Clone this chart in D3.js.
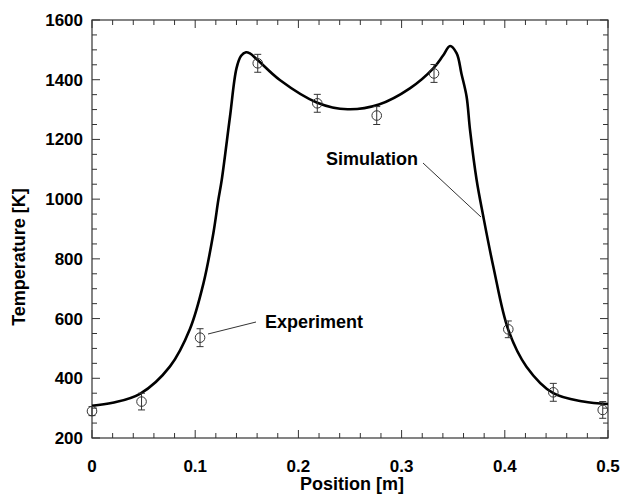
<!DOCTYPE html>
<html>
<head>
<meta charset="utf-8">
<script src="https://cdn.jsdelivr.net/npm/d3@7"></script>
<style>
body{margin:0;background:#fff;}
text{font-family:"Liberation Sans",Arial,sans-serif;font-weight:bold;fill:#000;}
</style>
</head>
<body>
<svg id="chart" width="623" height="495"></svg>
<script>
// Simulation curve
const simX = [0, 0.02, 0.0465, 0.0756, 0.095, 0.108, 0.1176, 0.1224, 0.1257, 0.1337, 0.140, 0.1445, 0.1492, 0.153, 0.1605, 0.182, 0.2183, 0.2476, 0.278, 0.308, 0.3307, 0.340, 0.347, 0.3534, 0.358, 0.363, 0.3663, 0.3727, 0.379, 0.389, 0.4034, 0.421, 0.447, 0.476, 0.5];
const simT = [308, 318, 348, 440, 566, 718, 886, 997, 1064, 1276, 1438, 1480, 1492, 1488, 1466, 1399, 1323, 1301, 1317, 1371, 1438, 1480, 1513, 1488, 1420, 1343, 1232, 1064, 945, 772, 562, 439, 350, 322, 314];
// Experiment points
const expX = [0, 0.048, 0.1047, 0.1606, 0.2183, 0.2759, 0.3314, 0.4034, 0.447, 0.4949];
const expT = [290, 322, 536, 1455, 1321, 1280, 1421, 564, 353, 294];
const expErr = [15, 28, 30, 30, 30, 30, 30, 28, 30, 28];
// Axis ticks
const xTicks = [0, 0.1, 0.2, 0.3, 0.4, 0.5];
const yTicks = [200, 400, 600, 800, 1000, 1200, 1400, 1600];
const xLabel = "Position [m]";
const yLabel = "Temperature [K]";
const annSim = "Simulation";
const annExp = "Experiment";

const svg = d3.select("#chart");
const L = 92, R = 608, T = 20, B = 438;
const x = d3.scaleLinear().domain([0, 0.5]).range([L, R]);
const y = d3.scaleLinear().domain([200, 1600]).range([B, T]);

const axisColor = "#333";
svg.append("rect").attr("x", L).attr("y", T).attr("width", R - L).attr("height", B - T)
  .attr("fill", "none").attr("stroke", axisColor).attr("stroke-width", 1.2);

const xMinor = d3.range(0, 0.5001, 0.02).map(v => +v.toFixed(3));
const yMinor = d3.range(200, 1601, 50);
const isMajX = v => Math.abs(v * 10 - Math.round(v * 10)) < 1e-6;
const isMajY = v => v % 200 === 0;

const g = svg.append("g").attr("stroke", axisColor).attr("stroke-width", 1);
xMinor.forEach(v => {
  const len = isMajX(v) ? 8 : 5;
  g.append("line").attr("x1", x(v)).attr("x2", x(v)).attr("y1", B).attr("y2", B - len);
  g.append("line").attr("x1", x(v)).attr("x2", x(v)).attr("y1", T).attr("y2", T + len);
});
yMinor.forEach(v => {
  const len = isMajY(v) ? 8 : 5;
  g.append("line").attr("x1", L).attr("x2", L + len).attr("y1", y(v)).attr("y2", y(v));
  g.append("line").attr("x1", R).attr("x2", R - len).attr("y1", y(v)).attr("y2", y(v));
});

svg.selectAll(".xt").data(xTicks).enter().append("text")
  .attr("x", d => x(d)).attr("y", 472).attr("text-anchor", "middle")
  .attr("font-size", 17).text(d => d === 0 ? "0" : d3.format(".1f")(d));
svg.selectAll(".yt").data(yTicks).enter().append("text")
  .attr("x", 83).attr("y", d => y(d) + 6).attr("text-anchor", "end")
  .attr("font-size", 17).text(d => d);

svg.append("text").attr("x", (L + R) / 2 + 2).attr("y", 490).attr("text-anchor", "middle")
  .attr("font-size", 18).text(xLabel);
svg.append("text").attr("transform", `translate(25,${(T + B) / 2 + 28}) rotate(-90)`)
  .attr("text-anchor", "middle").attr("font-size", 18).text(yLabel);

const line = d3.line().x(d => x(d[0])).y(d => y(d[1])).curve(d3.curveCatmullRom.alpha(0.5));
svg.append("path").datum(simX.map((v, i) => [v, simT[i]]))
  .attr("d", line).attr("fill", "none").attr("stroke", "#000").attr("stroke-width", 2.6)
  .attr("stroke-linejoin", "round");

const ep = svg.append("g").attr("stroke", "#333").attr("stroke-width", 1).attr("fill", "none");
expX.forEach((v, i) => {
  const cx = x(v), cy = y(expT[i]);
  const y1 = y(expT[i] + expErr[i]), y2 = y(expT[i] - expErr[i]);
  ep.append("line").attr("x1", cx).attr("x2", cx).attr("y1", y1).attr("y2", y2);
  ep.append("line").attr("x1", cx - 3.5).attr("x2", cx + 3.5).attr("y1", y1).attr("y2", y1);
  ep.append("line").attr("x1", cx - 3.5).attr("x2", cx + 3.5).attr("y1", y2).attr("y2", y2);
  ep.append("circle").attr("cx", cx).attr("cy", cy).attr("r", 4.8);
});

svg.append("text").attr("x", 326).attr("y", 165).attr("font-size", 18).text(annSim);
svg.append("line").attr("x1", 423).attr("y1", 163).attr("x2", 481).attr("y2", 217)
  .attr("stroke", "#333").attr("stroke-width", 1);
svg.append("text").attr("x", 265).attr("y", 328).attr("font-size", 18).text(annExp);
svg.append("line").attr("x1", 208).attr("y1", 334).attr("x2", 256).attr("y2", 322)
  .attr("stroke", "#333").attr("stroke-width", 1);
</script>
</body>
</html>
